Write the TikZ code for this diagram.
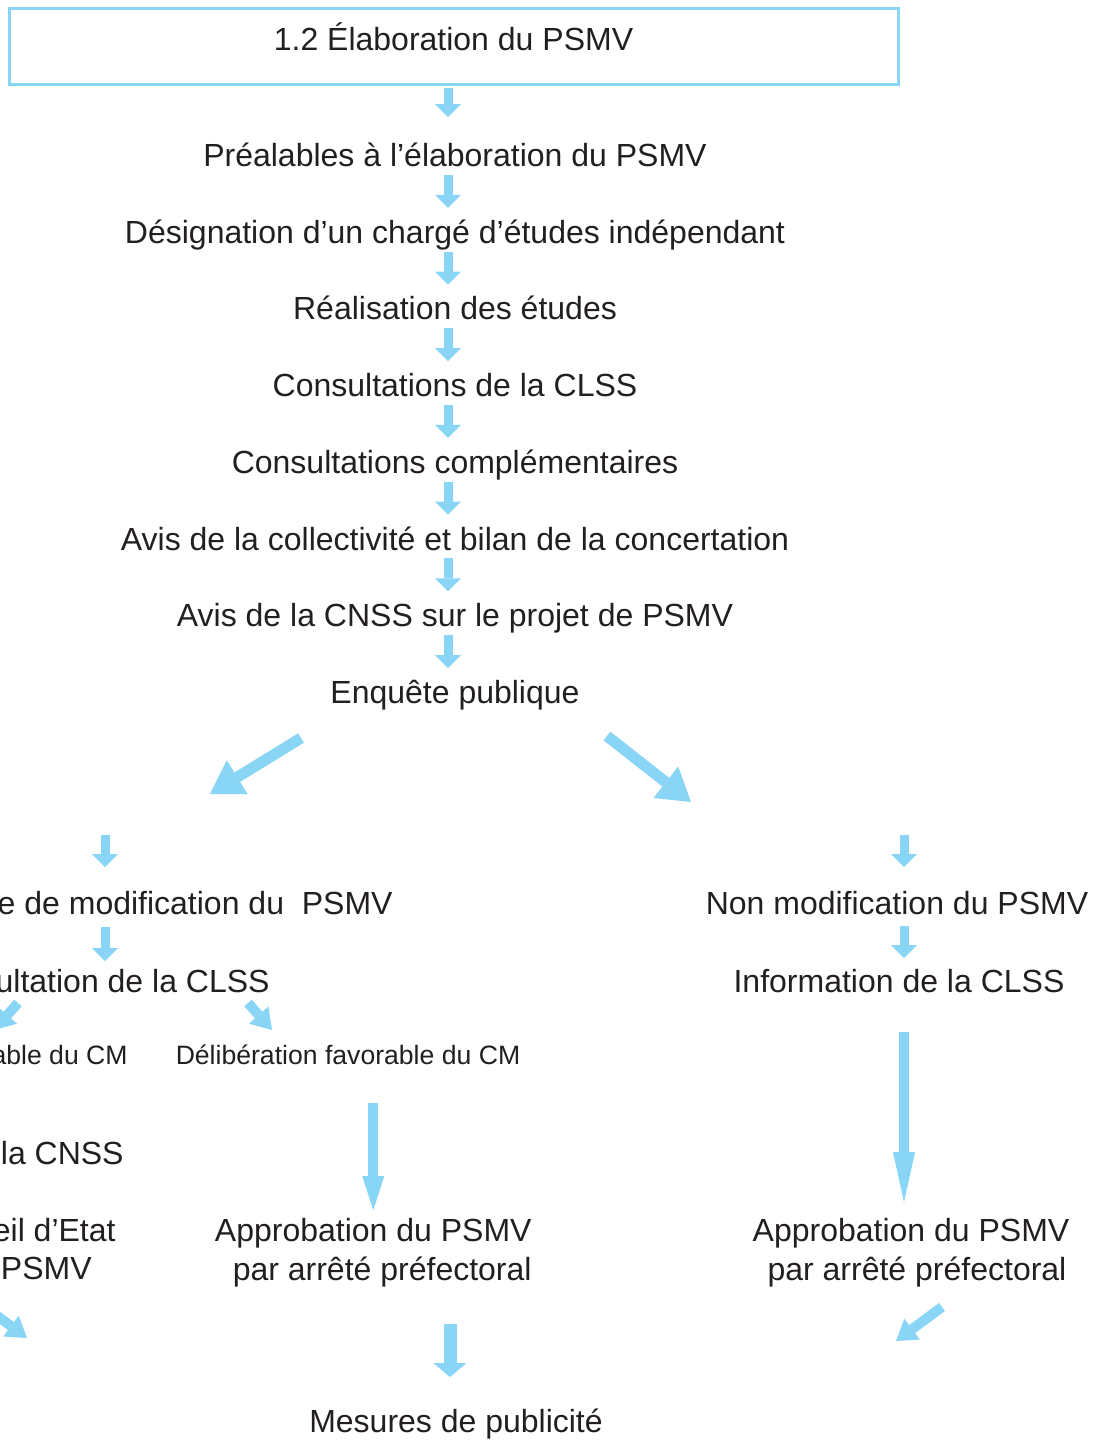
\documentclass[tikz,border=0pt]{standalone}
\usepackage{fontspec}
\setmainfont{Liberation Sans}
\usetikzlibrary{arrows.meta, positioning}

\definecolor{bleu}{HTML}{89D5F6}
\definecolor{encre}{HTML}{231F20}

\tikzset{
  titre/.style={draw=bleu, line width=1.5pt, minimum width=444.5pt, minimum height=38pt,
    text=encre, font=\fontsize{16}{19.5}\selectfont, text height=11.5pt, text depth=7pt},
  etape/.style={text=encre, font=\fontsize{16}{19.5}\selectfont, text height=11.5pt,
    text depth=0pt, inner xsep=0pt, inner ysep=4pt},
  etape2/.style={text=encre, font=\fontsize{16}{19.5}\selectfont, inner xsep=0pt, inner ysep=4pt},
  petite/.style={text=encre, font=\fontsize{13.3}{16}\selectfont, text height=9.5pt,
    text depth=0pt, inner xsep=0pt, inner ysep=4pt},
  fleche/.style={draw=bleu, line width=4.5pt, -{Triangle[width=13pt, length=6.5pt, line width=0pt]}},
  grandefleche/.style={draw=bleu, line width=5.5pt, -{Triangle[width=20pt, length=16pt, line width=0pt]}},
  petitefleche/.style={draw=bleu, line width=5pt, -{Triangle[width=13pt, length=10pt, line width=0pt]}},
  longuefleche/.style={draw=bleu, line width=5pt, -{Triangle[width=11pt, length=#1, line width=0pt]}},
  longuefleche/.default=25pt,
  basfleche/.style={draw=bleu, line width=6.5pt, -{Triangle[width=16.5pt, length=7pt, line width=0pt]}}
}

\begin{document}
\begin{tikzpicture}[x=0.5pt, y=-0.5pt, node distance=38.35pt, on grid]
  \useasboundingbox (0,0) rectangle (1100,1441);

  % tronc commun
  \node[titre] (titre) at (453.5,46) {1.2 Élaboration du PSMV};
  \node[etape] (prealables) at (455,155) {Préalables à l’élaboration du PSMV};
  \node[etape, below=of prealables] (designation) {Désignation d’un chargé d’études indépendant};
  \node[etape, below=of designation] (realisation) {Réalisation des études};
  \node[etape, below=of realisation] (clss) {Consultations de la CLSS};
  \node[etape, below=of clss] (complementaires) {Consultations complémentaires};
  \node[etape, below=of complementaires] (collectivite) {Avis de la collectivité et bilan de la concertation};
  \node[etape, below=of collectivite] (cnss) {Avis de la CNSS sur le projet de PSMV};
  \node[etape, below=of cnss] (enquete) {Enquête publique};

  \coordinate (axe) at (448,0);
  \draw[fleche, shorten <=1pt, shorten >=9pt] (axe |- titre.south) -- (axe |- prealables.north);
  \foreach \a/\b in {prealables/designation, designation/realisation, realisation/clss,
      clss/complementaires, complementaires/collectivite, collectivite/cnss, cnss/enquete}
    \draw[fleche, shorten >=2pt] (axe |- \a.south) -- (axe |- \b.north);

  % deux branches
  \coordinate (gdepart) at (301,738);
  \coordinate (gfin) at (210,794);
  \coordinate (ddepart) at (607,736);
  \coordinate (dfin) at (691,802);
  \draw[grandefleche] (gdepart) -- (gfin);
  \draw[grandefleche] (ddepart) -- (dfin);

  % branche gauche
  \coordinate (colg) at (105,835);
  \node[etape, anchor=east] (modif) at (393,903) {e de modification du\ \ PSMV};
  \node[etape, anchor=east] (consult) at (270,981) {ultation de la CLSS};
  \draw[fleche, shorten >=8pt] (colg) -- (colg |- modif.north);
  \draw[fleche, shorten <=2pt] (colg |- modif.south) -- (colg |- consult.north);

  \node[petite, anchor=east] (defav) at (128,1055) {able du CM};
  \node[petite] (fav) at (348,1055) {Délibération favorable du CM};
  \coordinate (cg1) at (18,1003);
  \coordinate (cg2) at (-6,1030);
  \coordinate (cd1) at (248,1003);
  \coordinate (cd2) at (272,1030);
  \draw[petitefleche] (cg1) -- (cg2);
  \draw[petitefleche] (cd1) -- (cd2);

  \node[etape, anchor=east] (cnssg) at (124,1153) {la CNSS};
  \node[etape, anchor=east] (conseil) at (116,1230) {eil d’Etat};
  \node[etape, anchor=east] (conseilb) at (92,1268) {PSMV};
  \coordinate (bg1) at (-16,1306);
  \coordinate (bg2) at (27,1338);
  \draw[petitefleche] (bg1) -- (bg2);

  \node[etape2, align=right, anchor=east] (approbg) at (532,1253) {Approbation du PSMV\\par arrêté préfectoral};
  \draw[longuefleche=17pt, shorten <=15pt] (approbg.north |- fav.south) -- (approbg.north);

  % branche droite
  \coordinate (cold) at (904,835);
  \node[etape] (nonmodif) at (897,903) {Non modification du PSMV};
  \node[etape] (info) at (899,981) {Information de la CLSS};
  \draw[fleche, shorten >=8pt] (cold) -- (cold |- nonmodif.north);
  \draw[fleche, shorten <=1.5pt, shorten >=1.5pt] (cold |- nonmodif.south) -- (cold |- info.north);
  \node[etape2, align=center] (approbd) at (911,1253) {Approbation du PSMV\\\hspace*{6pt}par arrêté préfectoral};
  \draw[longuefleche, shorten <=15.75pt, shorten >=4pt] (cold |- info.south) -- (cold |- approbd.north);
  \coordinate (bd1) at (942,1307);
  \coordinate (bd2) at (896,1341);
  \draw[petitefleche] (bd1) -- (bd2);

  % publicite
  \node[etape] (mesures) at (456,1421) {Mesures de publicité};
  \coordinate (pub) at (450,1324);
  \draw[basfleche, shorten >=12pt] (pub) -- (pub |- mesures.north);
\end{tikzpicture}
\end{document}
